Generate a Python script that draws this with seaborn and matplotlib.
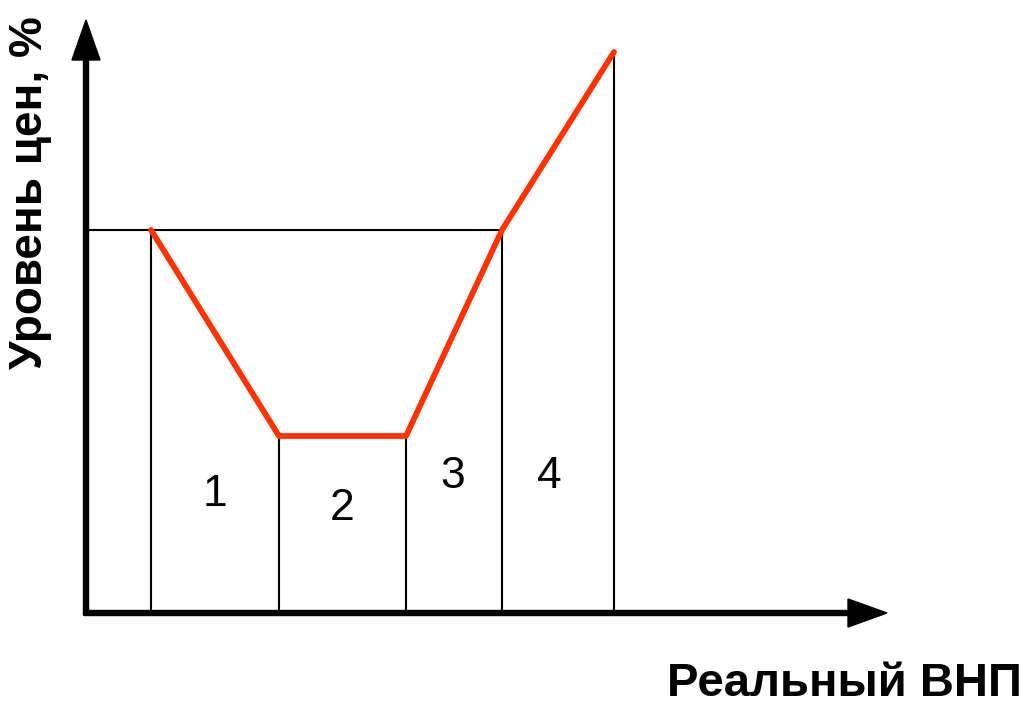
import matplotlib
matplotlib.use("Agg")
import matplotlib.pyplot as plt
import seaborn as sns
import pandas as pd

sns.set_style("white")
plt.rcParams['font.family'] = ['Liberation Sans', 'DejaVu Sans']
plt.rcParams['text.color'] = 'black'

# Data (units: arbitrary, origin at axes corner)
gnp = [64, 192, 319, 415, 527]
price = [382, 176, 176, 382, 560]
zone_labels = ["1", "2", "3", "4"]
zone_x = [128, 255, 366, 462]
zone_y = [118, 104, 135, 135]
x_title = "Реальный ВНП"
y_title = "Уровень цен, %"

df = pd.DataFrame({"gnp": gnp, "price": price})

fig = plt.figure(figsize=(10.27, 7.07), dpi=100)
ax = fig.add_axes([0, 0, 1, 1])

# reference lines
for x, y in zip(gnp, price):
    ax.plot([x, x], [0, y], color="black", lw=1.5, zorder=2)
ax.plot([0, gnp[3]], [price[0], price[3]], color="black", lw=1.5, zorder=2)

# curve
sns.lineplot(data=df, x="gnp", y="price", color="#FF3300", lw=4.2, sort=False,
             ax=ax, zorder=3, legend=False)
ax.set_xlim(-87, 940)
ax.set_ylim(-95, 612)
ax.axis("off")

# axes arrows
ax.arrow(-1, -3, 0, 595, width=5, head_width=28, head_length=40,
         length_includes_head=True, color="black", zorder=4)
ax.arrow(-3, -1, 803, 0, width=5, head_width=28, head_length=39,
         length_includes_head=True, color="black", zorder=4)

for lab, x, y in zip(zone_labels, zone_x, zone_y):
    ax.text(x, y, lab, fontsize=32, ha="center", va="center", color="black")

ax.text(935, -72, x_title, fontsize=34, fontweight="bold", ha="right", va="center",
        color="black")
ax.text(-57, 419, y_title, fontsize=33, fontweight="bold", ha="center", va="center",
        rotation=90, color="black")

fig.savefig("out.png", dpi=100)
